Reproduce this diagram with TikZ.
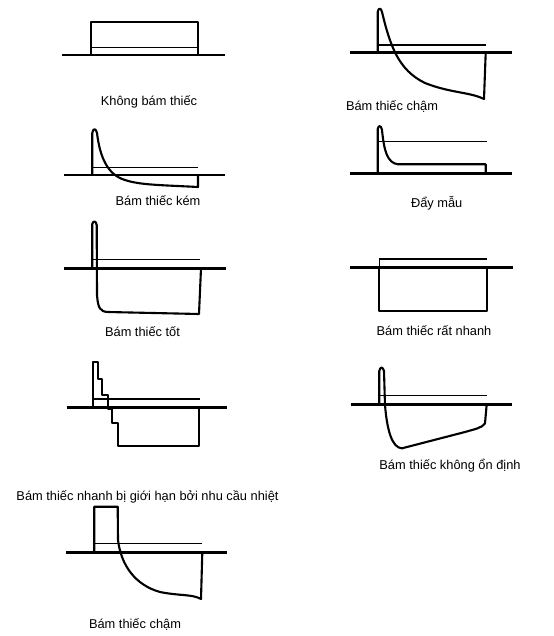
\documentclass[tikz,border=0pt]{standalone}
\usepackage{fontspec}
\setmainfont{Liberation Sans}

\begin{document}
\begin{tikzpicture}[x=0.02cm,y=-0.02cm,
  base/.style={line width=1.5pt},
  trace/.style={line width=1.2pt,line join=round},
  ref/.style={line width=.6pt},
  caption/.style={anchor=base,inner sep=0pt,font=\fontsize{7.3}{8.5}\selectfont}
]
\useasboundingbox (0,0) rectangle (554,636);

% khong bam thiec
\draw[base] (62,55) -- (225,55);
\draw[trace] (91,55) -- (91,21.7) -- (198,21.7) -- (198,55);
\draw[ref] (91,47.3) -- (198,47.3);
\node[caption] (none) at (149,105) {Không bám thiếc};

% bam thiec cham (top)
\draw[base] (350,52.7) -- (511.7,52.7);
\draw[trace] (377.7,52.7) -- (377.7,12) .. controls (378.5,7.5) and (381,7.5) .. (382,12)
  .. controls (390,45) and (398,70) .. (425,83)
  .. controls (450,93) and (470,92) .. (484,99) -- (485.7,52.7);
\draw[ref] (377.7,45) -- (485.7,45);
\node[caption] (slow) at (392,110.7) {Bám thiếc chậm};

% bam thiec kem
\draw[base] (64,175) -- (225,175);
\draw[trace] (92.3,175) -- (92.3,133) .. controls (93,128) and (96,128) .. (97,133)
  .. controls (100,158) and (108,175) .. (125,180)
  .. controls (140,185) and (160,185) .. (198,187) -- (198,175);
\draw[ref] (92.3,167.7) -- (198,167.7);
\node[caption] (poor) at (158,205) {Bám thiếc kém};

% day mau
\draw[base] (350,173.3) -- (511.7,173.3);
\draw[trace] (377.7,173.3) -- (377.7,129) .. controls (378.5,125) and (381,125) .. (382,130)
  .. controls (384,150) and (387,163) .. (398,164.3) -- (485.7,164.3) -- (485.7,173.3);
\draw[ref] (377.7,141.7) -- (486.7,141.7);
\node[caption] (push) at (436.7,207.3) {Đẩy mẫu};

% bam thiec tot
\draw[base] (64,268.3) -- (226,268.3);
\draw[trace] (92.3,268.3) -- (92.3,224) .. controls (93,220.5) and (96,220.5) .. (96.7,225)
  -- (97,295) .. controls (98,308) and (100,311.7) .. (108,312) -- (199,314) -- (201,268.3);
\draw[ref] (92.3,259.3) -- (200,259.3);
\node[caption] (good) at (142.5,336.7) {Bám thiếc tốt};

% bam thiec rat nhanh
\draw[base] (350,267.3) -- (512.7,267.3);
\draw[trace] (379.3,267.3) -- (379.3,311) -- (486.7,311) -- (486.7,267.3);
\draw[ref] (379.3,267.3) -- (379.3,259) -- (486.7,259);
\node[caption] (fast) at (434,335) {Bám thiếc rất nhanh};

% gioi han nhiet
\draw[base] (66.7,407.3) -- (226.7,407.3);
\draw[trace] (93.3,407.3) -- (93.3,362.3) -- (97.7,362.3) -- (97.7,379) -- (101.7,379)
  -- (101.7,395) -- (107.7,395) -- (107.7,409) -- (112.3,409) -- (112.3,423.3)
  -- (118.3,423.3) -- (118.3,446) -- (199.3,446) -- (199.3,407.3);
\draw[ref] (93.3,399) -- (200,399);
\node[caption] (heatlim) at (147.5,500.7) {Bám thiếc nhanh bị giới hạn bởi nhu cầu nhiệt};

% khong on dinh
\draw[base] (350.7,404.3) -- (511.7,404.3);
\draw[trace] (379.3,404.3) -- (379.3,371) .. controls (380,366.5) and (383,366.5) .. (384,371)
  -- (385,405) .. controls (387,430) and (392,448) .. (402,448.3)
  -- (465,432) .. controls (475,429) and (482,428) .. (485,423.3) -- (486.7,404.3);
\draw[ref] (379.3,395.7) -- (486.7,395.7);
\node[caption] (unstable) at (450,469.3) {Bám thiếc không ổn định};

% bam thiec cham (bottom)
\draw[base] (66,552.3) -- (226.7,552.3);
\draw[trace] (94.3,552.3) -- (94.3,506.7) -- (117.7,506.7) -- (118,540)
  .. controls (121,565) and (135,585) .. (160,592)
  .. controls (180,596) and (192,594) .. (201,599) -- (202.3,552.3);
\draw[ref] (94.3,543.3) -- (201.7,543.3);
\node[caption] (slowb) at (135,628.3) {Bám thiếc chậm};
\end{tikzpicture}
\end{document}
